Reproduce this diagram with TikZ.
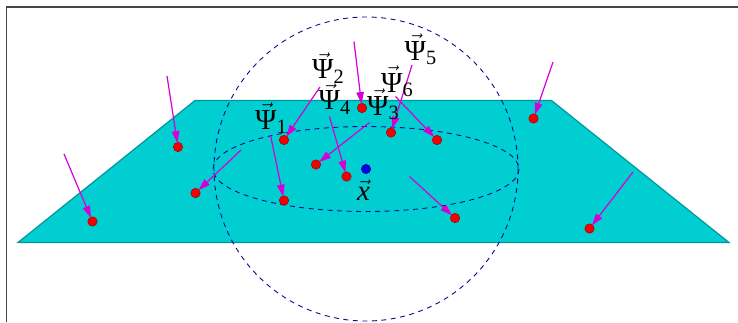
\documentclass[tikz,border=0pt]{standalone}
\usepackage{amsmath,amssymb}
\usepackage{fontspec}
\setmainfont{Liberation Serif}
\usepackage{tikz}
\usetikzlibrary{arrows.meta,positioning,calc}
\definecolor{PlaneCyan}{RGB}{0,206,209}
\definecolor{PlaneEdge}{RGB}{0,150,155}
\definecolor{PointRed}{RGB}{245,0,0}
\definecolor{CenterBlue}{RGB}{0,0,235}
\definecolor{ArrowMagenta}{RGB}{214,0,214}
\definecolor{SphereNavy}{RGB}{10,10,140}
\definecolor{FrameGray}{RGB}{70,70,70}
\newcommand{\psivec}[1]{$\vec{\text{Ψ}}_{\text{#1}}$}
\tikzset{
  plane/.style={fill=PlaneCyan,draw=PlaneEdge,line width=1.2pt,line join=miter},
  sphere/.style={draw=SphereNavy,line width=0.9pt,dash pattern=on 5pt off 4.5pt},
  sample/.style={circle,fill=PointRed,draw=red!55!black,line width=0.4pt,
    minimum size=9.5pt,inner sep=0pt},
  centre/.style={sample,fill=CenterBlue,draw=blue!50!black},
  psiarrow/.style={-{Triangle[length=12pt,width=7.5pt]},line width=1.2pt,
    ArrowMagenta,shorten >=-1pt},
  psilabel/.style={anchor=base west,inner sep=0pt,font=\fontsize{29}{31}\selectfont}
}

\begin{document}
\begin{tikzpicture}[x=1pt,y=-1pt]
  \useasboundingbox (0,0) rectangle (738,322);
  % frame
  \draw[FrameGray,line width=1.6pt] (6.5,322) |- (738,7);
  % plane
  \draw[plane] (18,242.5) -- (729,242.5) -- (551.5,100.5) -- (195,100.5) -- cycle;
  % sphere round x
  \draw[sphere] (366,169) circle[radius=152];
  \draw[sphere] (366,169) ellipse[x radius=153,y radius=42.5];
  % sample points
  \foreach \name/\px/\py in {pa/178/147, pb/92.5/221.5, pc/195.5/193, pd/284/140,
      pe/284/200.5, pf/316/164.5, pg/346.5/176.5, ph/362/108, pi/391/132.5,
      pj/437/140, pk/455/218, pl/533.5/118.5, pm/589.5/228.5}
    \node[sample] (\name) at (\px,\py) {};
  \node[centre] (xc) at (366,169) {};
  % arrow tails
  \foreach \name/\px/\py in {ta/167/76, tb/64/154, tc/241/150, td/320/87,
      te/270.5/135, tf/369.5/122.5, tg/329.5/116.5, th/354/41.5, ti/412/65,
      tj/395.5/96.5, tk/409.5/176.5, tl/553/62, tm/633/172}
    \coordinate (\name) at (\px,\py);
  \foreach \t/\p in {ta/pa, tb/pb, tc/pc, td/pd, te/pe, tf/pf, tg/pg, th/ph,
      ti/pi, tj/pj, tk/pk, tl/pl, tm/pm}
    \draw[psiarrow] (\t) -- (\p);
  % labels
  \node[psilabel] (psi1) at (255,129) {\psivec{1}};
  \node[psilabel] (psi2) at (312,78.5) {\psivec{2}};
  \node[psilabel] (psi4) at (318.5,109.5) {\psivec{4}};
  \node[psilabel] (psi3) at (367,115) {\psivec{3}};
  \node[psilabel] (psi6) at (381,92) {\psivec{6}};
  \node[psilabel] (psi5) at (404.5,60) {\psivec{5}};
  \node[psilabel] (xlab) at (357,200) {$\vec{\text{\itshape x}}$};
\end{tikzpicture}
\end{document}
